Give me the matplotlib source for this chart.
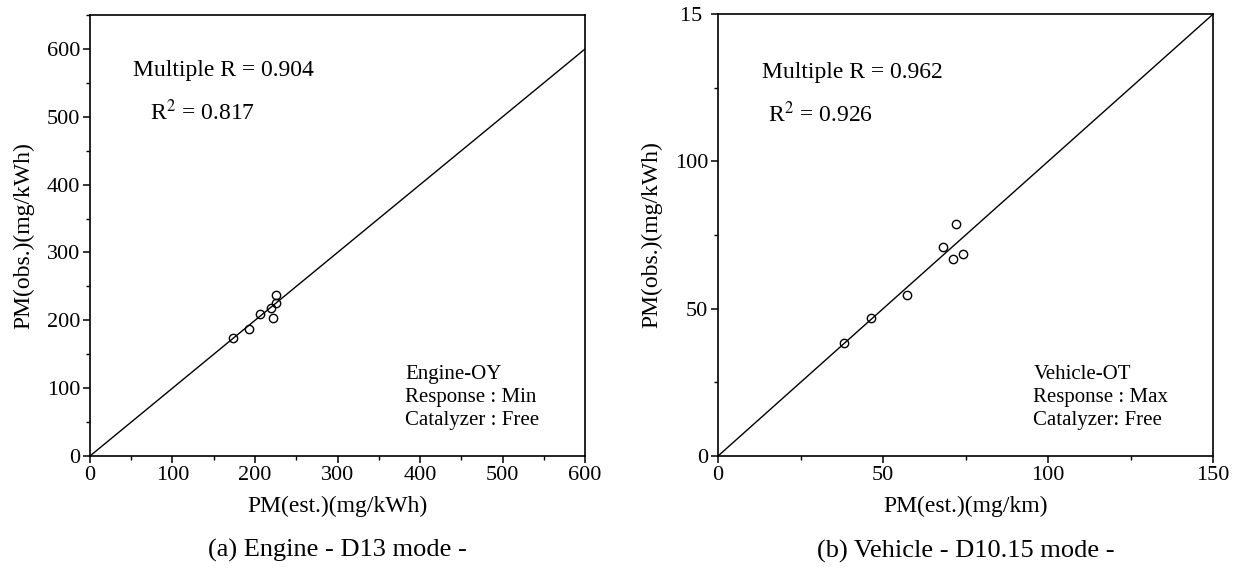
import matplotlib.pyplot as plt
from matplotlib.ticker import MultipleLocator

plt.rcParams['font.family'] = ['Liberation Serif', 'DejaVu Serif']
plt.rcParams['mathtext.fontset'] = 'stix'

# (a) Engine - D13 mode
eng_est = [173, 193, 206, 219, 222, 225, 225]
eng_obs = [174, 187, 210, 218, 203, 226, 237]

# (b) Vehicle - D10.15 mode
veh_est = [38.2, 46.4, 57.3, 68.2, 71.2, 72.1, 74.2]
veh_obs = [38.2, 47.0, 54.7, 70.9, 66.9, 78.7, 68.6]

fig = plt.figure(figsize=(12.41, 5.7), dpi=100)
ax1 = fig.add_axes([0.0725, 0.2, 0.399, 0.7737])
ax2 = fig.add_axes([0.5786, 0.2, 0.399, 0.7754])

fs = 16
big = 17


def style(ax):
    for s in ax.spines.values():
        s.set_linewidth(1.2)
    ax.tick_params(which='major', direction='out', length=5, width=1.1,
                   labelsize=fs, pad=2)
    ax.tick_params(which='minor', direction='out', length=3, width=1)


# left panel
ax1.plot([0, 600], [0, 600], color='black', lw=1)
ax1.plot(eng_est, eng_obs, 'o', mfc='none', mec='black', ms=6, mew=1)
ax1.set_xlim(0, 600)
ax1.set_ylim(0, 650)
ax1.set_xticks([0, 100, 200, 300, 400, 500, 600])
ax1.set_yticks([0, 100, 200, 300, 400, 500, 600])
ax1.xaxis.set_minor_locator(MultipleLocator(50))
ax1.yaxis.set_minor_locator(MultipleLocator(50))
style(ax1)
ax1.set_xlabel('PM(est.)(mg/kWh)', fontsize=big, labelpad=8)
ax1.set_ylabel('PM(obs.)(mg/kWh)', fontsize=big, labelpad=9)
ax1.text(52, 568, 'Multiple R = 0.904', fontsize=big, va='center')
ax1.text(73, 506, r'R$^2$ = 0.817', fontsize=big, va='center')
ax1.text(382, 120, 'Engine-OY', fontsize=15, va='center')
ax1.text(382, 86, 'Response : Min', fontsize=15, va='center')
ax1.text(382, 52, 'Catalyzer : Free', fontsize=15, va='center')
ax1.text(0.5, -0.215, '(a) Engine - D13 mode -', transform=ax1.transAxes,
         fontsize=19, ha='center', va='center')

# right panel
ax2.plot([0, 150], [0, 150], color='black', lw=1)
ax2.plot(veh_est, veh_obs, 'o', mfc='none', mec='black', ms=6, mew=1)
ax2.set_xlim(0, 150)
ax2.set_ylim(0, 150)
ax2.set_xticks([0, 50, 100, 150])
ax2.set_yticks([0, 50, 100, 150])
ax2.set_yticklabels(['0', '50', '100', '15 '])
ax2.xaxis.set_minor_locator(MultipleLocator(25))
ax2.yaxis.set_minor_locator(MultipleLocator(25))
style(ax2)
ax2.set_xlabel('PM(est.)(mg/km)', fontsize=big, labelpad=8)
ax2.set_ylabel('PM(obs.)(mg/kWh)', fontsize=big, labelpad=9)
ax2.text(13.3, 130, 'Multiple R = 0.962', fontsize=big, va='center')
ax2.text(15, 116, r'R$^2$ = 0.926', fontsize=big, va='center')
ax2.text(95.5, 27.6, 'Vehicle-OT', fontsize=15, va='center')
ax2.text(95.5, 19.8, 'Response : Max', fontsize=15, va='center')
ax2.text(95.5, 12.0, 'Catalyzer: Free', fontsize=15, va='center')
ax2.text(0.5, -0.215, '(b) Vehicle - D10.15 mode -', transform=ax2.transAxes,
         fontsize=19, ha='center', va='center')

fig.savefig('out.png', dpi=100)
